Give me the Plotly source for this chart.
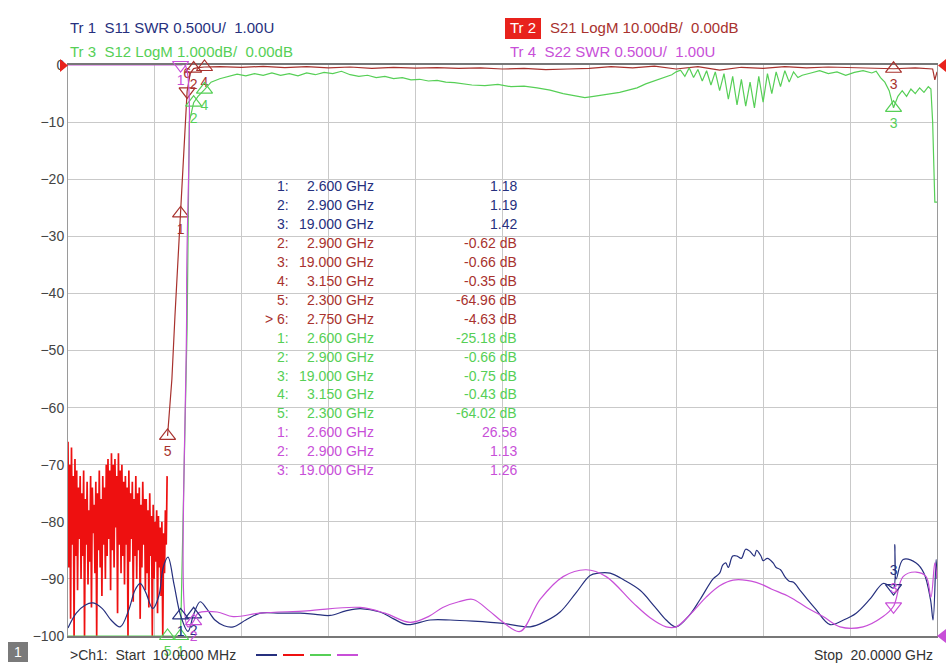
import numpy as np
import plotly.graph_objects as go

# ---- sweep data ----
# S21 stopband (dense noise), 10 MHz .. 2.29 GHz on the analyzer's 20 MHz grid
s21_stop_f = np.arange(10, 2300, 20) / 1000.0
s21_stop_db = [
    -66, -88, -70, -97, -67, -84, -72, -100, -69, -86, -71, -92, -74,
    -83, -72, -90, -75, -86, -71, -100, -76, -84, -73, -91, -78, -87, -72, -95, -74,
    -82, -77, -89, -73, -100, -75, -85, -71, -88, -76, -93, -72, -84, -74, -90, -70,
    -86, -69, -83, -71, -92, -68, -85, -70, -88, -69, -81, -72, -96, -68, -84, -71,
    -89, -70, -86, -73,
    -91, -72, -84, -74, -100, -71, -87, -75, -83, -73, -94, -76, -86, -72, -90, -75,
    -85, -74, -97, -77, -88, -73, -84, -76, -92,
    -76, -89, -78, -95, -75, -86, -79, -100, -77, -90, -80, -87, -78, -96, -79, -88,
    -81, -93, -80, -100, -82, -89, -78, -84, -72,
]
s21_pass_f = [2.3, 2.4, 2.47, 2.55, 2.6, 2.68, 2.75, 2.82, 2.9, 3.0, 3.15, 3.5, 4.0, 4.5, 5.0,
              5.5, 6.0, 6.5, 7.0, 7.5, 8.0, 8.5, 9.0, 9.5, 10.0, 10.5, 11.0, 11.5, 12.0, 12.5,
              13.0, 13.5, 14.0, 14.5, 15.0, 15.5, 16.0, 16.5, 17.0, 17.5, 18.0, 18.5, 19.0,
              19.5, 19.9, 19.95, 20.0]
s21_pass_db = [-64.96, -55, -44, -33, -26, -14, -4.63, -1.5, -0.62, -0.45, -0.35, -0.3, -0.4,
               -0.25, -0.45, -0.3, -0.5, -0.35, -0.6, -0.4, -0.55, -0.45, -0.6, -0.5, -0.7,
               -0.6, -0.8, -0.7, -0.6, -0.3, -0.5, -0.2, -0.7, -0.3, -0.9, -0.4, -0.6, -0.3,
               -0.5, -0.35, -0.45, -0.5, -0.66, -0.5, -0.7, -2.6, -1.2]

s12_f = [0.01, 0.5, 1.0, 1.5, 2.0, 2.3, 2.6, 2.75, 2.8, 2.9, 3.0, 3.15, 3.3, 3.5, 3.7, 3.9,
         4.1, 4.3, 4.5, 4.7, 4.9, 5.1, 5.3, 5.5, 5.7, 5.9, 6.1, 6.3, 6.5, 6.7, 6.9, 7.1, 7.3,
         7.5, 7.7, 7.9, 8.1, 8.3, 8.5, 8.7, 8.9, 9.1, 9.3, 9.6, 9.9, 10.2, 10.5, 10.8, 11.1,
         11.4, 11.7, 11.9, 12.1, 12.3, 12.5, 12.7, 12.9, 13.1, 13.3, 13.5, 13.7, 13.9, 14.0,
         14.1, 14.2, 14.3, 14.4, 14.5, 14.6, 14.7, 14.8, 14.9, 15.0, 15.1, 15.2, 15.3, 15.4,
         15.5, 15.6, 15.7, 15.8, 15.9, 16.0, 16.1, 16.2, 16.3, 16.4, 16.5, 16.6, 16.7, 16.8,
         16.9, 17.1, 17.3, 17.5, 17.7, 17.9, 18.1, 18.3, 18.5, 18.6, 18.7, 18.8, 18.9, 19.0,
         19.1, 19.2, 19.3, 19.4, 19.5, 19.6, 19.7, 19.8, 19.86, 19.9, 19.95, 20.0]
s12_db = [-72, -78, -74, -80, -76, -64.02, -25.18, -4.6, -1.0, -0.66, -0.55, -0.43, -0.3,
          -0.24, -0.2, -0.16, -0.19, -0.15, -0.18, -0.14, -0.18, -0.15, -0.19, -0.14, -0.17,
          -0.13, -0.15, -0.11, -0.17, -0.2, -0.18, -0.22, -0.2, -0.24, -0.22, -0.26, -0.25,
          -0.28, -0.27, -0.3, -0.31, -0.33, -0.35, -0.36, -0.34, -0.38, -0.37, -0.4, -0.44,
          -0.5, -0.54, -0.57, -0.55, -0.53, -0.5, -0.48, -0.44, -0.4, -0.33, -0.28, -0.22,
          -0.17, -0.12,
          -0.09, -0.2, -0.05, -0.22, -0.08, -0.28, -0.1, -0.35, -0.12, -0.45, -0.15, -0.6,
          -0.2, -0.7, -0.25, -0.72, -0.3, -0.75, -0.2, -0.65, -0.15, -0.5, -0.12, -0.38,
          -0.1, -0.3, -0.12, -0.22, -0.18,
          -0.14, -0.1, -0.15, -0.12, -0.18, -0.13, -0.1, -0.14, -0.11, -0.22, -0.3, -0.45,
          -0.75, -0.55, -0.45, -0.55, -0.42, -0.5, -0.4, -0.48, -0.38, -0.42, -1.0, -2.4, -2.4]

s11_f = [0.01, 0.2, 0.4, 0.585, 0.8, 1.0, 1.21, 1.4, 1.55, 1.67, 1.8, 1.96, 2.1, 2.2, 2.31,
         2.45, 2.6, 2.77, 2.9, 3.05, 3.2, 3.39, 3.6, 3.81, 4.1, 4.43, 4.9, 5.35, 5.7, 6.04,
         6.4, 6.73, 7.19, 7.5, 7.81, 8.34, 8.8, 9.33, 10.02, 10.64, 11.0, 11.33, 11.7, 12.02,
         12.2, 12.48, 12.8, 13.17, 13.5, 13.77, 14.0, 14.3, 14.55, 14.85, 15.0, 15.07, 15.14,
         15.2, 15.3, 15.4, 15.5, 15.6, 15.7, 15.8, 15.85, 15.95, 16.0, 16.1, 16.23, 16.3,
         16.4, 16.5, 16.6, 16.7, 16.85, 17.0, 17.2, 17.54, 17.85, 18.14, 18.45, 18.76, 18.9,
         19.0, 19.03, 19.06, 19.22, 19.52, 19.7, 19.85, 19.91, 19.98, 20.0]
s11_swr = [1.07, 1.2, 1.27, 1.29, 1.24, 1.14, 1.08, 1.22, 1.4, 1.46, 1.38, 1.24, 1.35, 1.6,
           1.69, 1.45, 1.18, 1.04, 1.19, 1.30, 1.24, 1.14, 1.09, 1.08, 1.14, 1.2, 1.2, 1.2,
           1.19, 1.18, 1.22, 1.24, 1.21, 1.15, 1.1, 1.14, 1.14, 1.13, 1.11, 1.08, 1.13, 1.21,
           1.38, 1.53, 1.55, 1.55, 1.49, 1.4, 1.26, 1.14, 1.08, 1.18, 1.32, 1.5, 1.55, 1.62,
           1.64, 1.6, 1.7, 1.7, 1.68, 1.76, 1.74, 1.7, 1.75, 1.7, 1.66, 1.68, 1.64, 1.6, 1.58,
           1.52, 1.48, 1.47, 1.40, 1.33, 1.24, 1.10, 1.14, 1.2, 1.32, 1.46, 1.44, 1.42, 1.8,
           1.5, 1.67, 1.64, 1.55, 1.32, 1.14, 1.67, 1.5]

s22_f = [0.01, 1.0, 2.0, 2.6, 2.7, 2.74, 2.77, 2.9, 3.0, 3.44, 3.81, 4.43, 5.5, 6.73, 7.3,
         7.88, 8.3, 8.63, 9.0, 9.33, 9.7, 10.02, 10.41, 10.87, 11.4, 11.93, 12.39, 13.01,
         13.4, 13.77, 14.0, 14.35, 14.69, 15.0, 15.31, 15.84, 16.2, 16.62, 17.0, 17.38,
         17.77, 18.3, 18.76, 19.0, 19.22, 19.52, 19.75, 19.86, 19.95, 20.0]
s22_swr = [9.0, 12.0, 15.0, 26.58, 10.0, 4.0, 1.08, 1.13, 1.2, 1.21, 1.17, 1.2, 1.22, 1.25,
           1.2, 1.12, 1.17, 1.25, 1.3, 1.32, 1.22, 1.12, 1.04, 1.32, 1.52, 1.58, 1.52, 1.29,
           1.16, 1.08, 1.08, 1.2, 1.34, 1.44, 1.49, 1.47, 1.41, 1.34, 1.25, 1.17, 1.08, 1.08,
           1.17, 1.26, 1.52, 1.56, 1.52, 1.34, 1.64, 1.5]

# ---- marker readouts ----
s11_mk_id = [1, 2, 3]
s11_mk_f = [2.6, 2.9, 19.0]
s11_mk_val = [1.18, 1.19, 1.42]
s21_mk_id = [1, 2, 3, 4, 5, 6]
s21_mk_f = [2.6, 2.9, 19.0, 3.15, 2.3, 2.75]
s21_mk_val = [-26.0, -0.62, -0.66, -0.35, -64.96, -4.63]
s12_mk_id = [1, 2, 3, 4, 5]
s12_mk_f = [2.6, 2.9, 19.0, 3.15, 2.3]
s12_mk_val = [-25.18, -0.66, -0.75, -0.43, -64.02]
s22_mk_id = [1, 2, 3]
s22_mk_f = [2.6, 2.9, 19.0]
s22_mk_val = [26.58, 1.13, 1.26]

# ---- screen geometry / style ----
W, H = 946, 670
L, R, T, B = 68, 937, 65, 636
C_BLUE = "#26307e"
C_RED = "#ee1010"
C_DRED = "#a8322e"
C_GREEN = "#56cf56"
C_MAG = "#c84fd8"
FONT = "Liberation Sans, Arial, sans-serif"
NB = "\u00a0"


def px(x, y):
    return (x - L) / (R - L), (B - y) / (B - T)


fig = go.Figure()

# traces (clamped to the display like the analyzer does)
fig.add_trace(go.Scatter(x=s21_stop_f, y=np.clip(s21_stop_db, -100, 0), mode="lines",
                         line=dict(color=C_RED, width=1.7), yaxis="y"))
fig.add_trace(go.Scatter(x=s21_pass_f, y=np.clip(s21_pass_db, -100, 0), mode="lines",
                         line=dict(color=C_DRED, width=1.2), yaxis="y"))
fig.add_trace(go.Scatter(x=s12_f, y=np.clip(s12_db, -10, 0), mode="lines",
                         line=dict(color=C_GREEN, width=1.2), yaxis="y2"))
fig.add_trace(go.Scatter(x=s11_f, y=np.clip(s11_swr, 1, 6), mode="lines", line_shape="spline",
                         line=dict(color=C_BLUE, width=1.2), yaxis="y3"))
fig.add_trace(go.Scatter(x=s22_f, y=np.clip(s22_swr, 1, 6), mode="lines", line_shape="spline",
                         line=dict(color=C_MAG, width=1.2), yaxis="y3"))

# marker triangles: (trace, id) -> (pointing down?, label position)
mk_style = {("s11", 3): (True, "top center"), ("s21", 6): (True, "top center"),
            ("s22", 1): (True, "bottom center"), ("s22", 3): (True, "top center")}
mk_sets = [
    ("s11", s11_mk_id, s11_mk_f, np.clip(s11_mk_val, 1, 6), C_BLUE, "y3"),
    ("s21", s21_mk_id, s21_mk_f, np.clip(s21_mk_val, -100, 0), C_DRED, "y"),
    ("s12", s12_mk_id, s12_mk_f, np.clip(s12_mk_val, -10, 0), C_GREEN, "y2"),
    ("s22", s22_mk_id, s22_mk_f, np.clip(s22_mk_val, 1, 6), C_MAG, "y3"),
]
for name, ids, fs, vals, col, ax in mk_sets:
    for i, f, v in zip(ids, fs, vals):
        dn, pos = mk_style.get((name, i), (False, "bottom center"))
        fig.add_trace(go.Scatter(
            x=[f], y=[v], mode="markers+text", yaxis=ax, cliponaxis=False,
            marker=dict(symbol="triangle-down-open" if dn else "triangle-up-open",
                        size=14, color=col, line=dict(width=1.2, color=col)),
            text=[str(i)], textposition=pos,
            textfont=dict(family=FONT, size=14, color=col)))

annotations = []


def label(x, y, text, color, size=15, anchor="left"):
    ax_, ay_ = px(x, y)
    annotations.append(dict(x=ax_, y=ay_, xref="paper", yref="paper", text=text,
                            showarrow=False, xanchor=anchor, yanchor="middle",
                            font=dict(family=FONT, size=size, color=color)))


# header lines
label(68, 28, f"Tr 1{NB*2}S11 SWR 0.500U/{NB*2}1.00U", C_BLUE)
label(68, 52, f"Tr 3{NB*2}S12 LogM 1.000dB/{NB*2}0.00dB", C_GREEN)
label(508, 28, "Tr 2", "white")
label(548, 28, f"S21 LogM 10.00dB/{NB*2}0.00dB", C_DRED)
label(508, 52, f"Tr 4{NB*2}S22 SWR 0.500U/{NB*2}1.00U", C_MAG)

# marker table
rows = []
for i, f, v in zip(s11_mk_id, s11_mk_f, s11_mk_val):
    rows.append((f"{i}:", f"{f:.3f} GHz", f"{v:.2f}", C_BLUE))
for i, f, v in zip(s21_mk_id[1:], s21_mk_f[1:], s21_mk_val[1:]):
    rows.append(((">" + NB if i == 6 else "") + f"{i}:", f"{f:.3f} GHz", f"{v:.2f} dB", C_DRED))
for i, f, v in zip(s12_mk_id, s12_mk_f, s12_mk_val):
    rows.append((f"{i}:", f"{f:.3f} GHz", f"{v:.2f} dB", C_GREEN))
for i, f, v in zip(s22_mk_id, s22_mk_f, s22_mk_val):
    rows.append((f"{i}:", f"{f:.3f} GHz", f"{v:.2f}", C_MAG))
for k, (a, b, c, col) in enumerate(rows):
    y = 186 + k * 18.95
    label(291, y, a, col, size=14, anchor="right")
    label(376, y, b, col, size=14, anchor="right")
    label(519, y, c, col, size=14, anchor="right")

# footer
label(68, 655, f">Ch1:{NB*2}Start{NB*2}10.0000 MHz", "#333333", size=14)
label(935, 655, f"Stop{NB*2}20.0000 GHz", "#333333", size=14, anchor="right")
label(18, 652, "1", "white", size=14, anchor="center")

shapes = []


def rect(x0, y0, x1, y1, color):
    a = px(x0, y0)
    b = px(x1, y1)
    shapes.append(dict(type="rect", xref="paper", yref="paper", x0=a[0], y0=a[1],
                       x1=b[0], y1=b[1], fillcolor=color, line=dict(width=0), layer="below"))


def seg(x0, y0, x1, y1, color, w=2):
    a = px(x0, y0)
    b = px(x1, y1)
    shapes.append(dict(type="line", xref="paper", yref="paper", x0=a[0], y0=a[1],
                       x1=b[0], y1=b[1], line=dict(color=color, width=w)))


def tri(pts, color):
    p = [px(x, y) for x, y in pts]
    path = "M {} {} L {} {} L {} {} Z".format(*[c for xy in p for c in xy])
    shapes.append(dict(type="path", xref="paper", yref="paper", path=path,
                       fillcolor=color, line=dict(width=0)))


rect(505, 18, 541, 39, "#e8221c")
rect(8, 642, 28, 662, "#7a7a7a")
seg(256, 655, 277, 655, C_BLUE)
seg(283, 655, 304, 655, C_RED)
seg(310, 655, 331, 655, C_GREEN)
seg(337, 655, 358, 655, C_MAG)
tri([(60, 59), (60, 72), (68, 65.5)], "#e8221c")
tri([(946, 59), (946, 72), (938, 65.5)], "#e8221c")
tri([(946, 629), (946, 643), (937, 636)], C_MAG)

grid = "#c9c9c9"
fig.update_layout(
    width=W, height=H,
    margin=dict(l=L, r=W - R, t=T, b=H - B),
    paper_bgcolor="white", plot_bgcolor="white",
    showlegend=False,
    annotations=annotations,
    shapes=shapes,
    xaxis=dict(range=[0.01, 20.0], tick0=0.01, dtick=1.999, showticklabels=False,
               ticks="", showgrid=True, gridcolor=grid, gridwidth=1, zeroline=False,
               showline=True, linecolor="#777777", linewidth=1.5, mirror=True,
               layer="below traces"),
    yaxis=dict(range=[-100, 0], dtick=10, showgrid=True, gridcolor=grid, gridwidth=1,
               zeroline=False, ticks="", ticklen=0,
               tickfont=dict(family=FONT, size=14, color="#444444"),
               showline=True, linecolor="#9a9a9a", linewidth=1, mirror=True,
               layer="below traces"),
    yaxis2=dict(range=[-10, 0], overlaying="y", showgrid=False, zeroline=False,
                showticklabels=False, ticks=""),
    yaxis3=dict(range=[1, 6], overlaying="y", showgrid=False, zeroline=False,
                showticklabels=False, ticks=""),
)

fig.write_html("out.html", config={"displayModeBar": False},
               post_script="document.body.style.margin='0px';")
